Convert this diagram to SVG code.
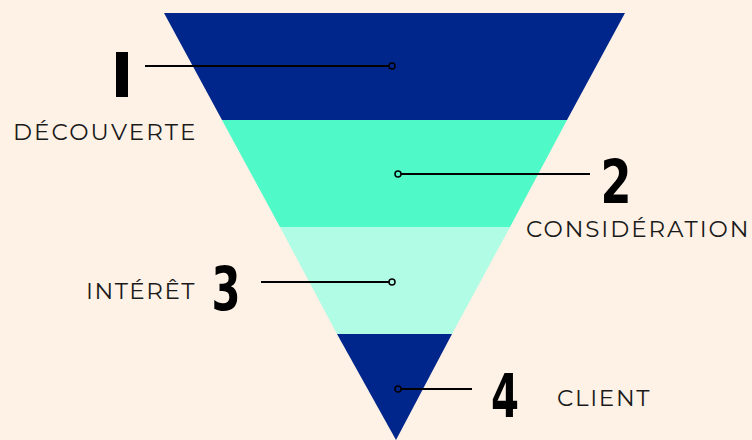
<svg xmlns="http://www.w3.org/2000/svg" width="752" height="440" viewBox="0 0 752 440">
<style>
.lbl{font-family:Montserrat,"Liberation Sans","DejaVu Sans",sans-serif;font-size:23px;fill:#1a1a1a;letter-spacing:1.5px}
.num{font-family:"Liberation Sans Narrow","DejaVu Sans Condensed","Liberation Sans",sans-serif;font-weight:900;font-size:60px;fill:#000}
.ln{stroke:#000;stroke-width:2;fill:none}
.dot{stroke:#000;stroke-width:1.5;fill:none}
</style>
<rect width="752" height="440" fill="#FEF2E6"/>
<g id="funnel">
<polygon points="164,13 625,13 567,120 222,120" fill="#00268C"/>
<polygon points="222,120 567,120 510,227 280,227" fill="#4FF9C8"/>
<polygon points="280,227 510,227 452,334 337,334" fill="#B0FCE4"/>
<polygon points="337,334 452,334 396,440" fill="#00268C"/>
</g>
<g id="connectors">
<line class="ln" x1="145" y1="66" x2="389" y2="66"/>
<circle class="dot" cx="392" cy="66" r="3"/>
<line class="ln" x1="401" y1="174" x2="590" y2="174"/>
<circle class="dot" cx="398" cy="174" r="3"/>
<line class="ln" x1="261" y1="282" x2="389" y2="282"/>
<circle class="dot" cx="392" cy="282" r="3"/>
<line class="ln" x1="401" y1="389" x2="472" y2="389"/>
<circle class="dot" cx="398" cy="389" r="3"/>
</g>
<g id="step1">
<rect x="116" y="52" width="12" height="45" fill="#000"/>
<text class="lbl" x="13" y="140" textLength="184" lengthAdjust="spacing">DÉCOUVERTE</text>
</g>
<g id="step2">
<text class="num" x="616" y="203" text-anchor="middle" textLength="31" lengthAdjust="spacingAndGlyphs">2</text>
<text class="lbl" x="526" y="237" textLength="224" lengthAdjust="spacing">CONSIDÉRATION</text>
</g>
<g id="step3">
<text class="num" x="226" y="310" text-anchor="middle" textLength="29" lengthAdjust="spacingAndGlyphs">3</text>
<text class="lbl" x="86" y="299" textLength="110" lengthAdjust="spacing">INTÉRÊT</text>
</g>
<g id="step4">
<text class="num" x="505" y="417" text-anchor="middle" textLength="28" lengthAdjust="spacingAndGlyphs">4</text>
<text class="lbl" x="557" y="406" textLength="94" lengthAdjust="spacing">CLIENT</text>
</g>
</svg>
